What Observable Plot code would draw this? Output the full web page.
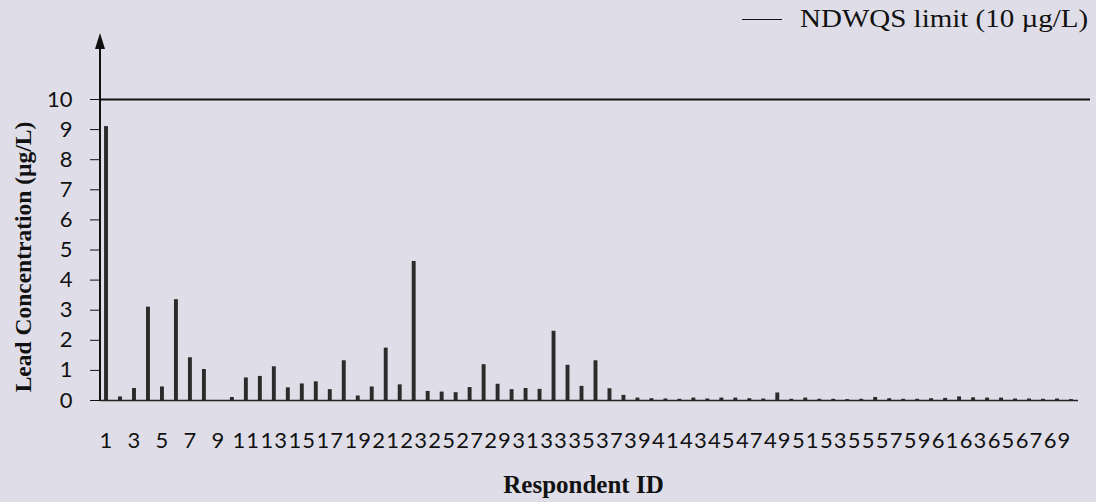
<!DOCTYPE html>
<html><head><meta charset="utf-8">
<script src="https://cdn.jsdelivr.net/npm/d3@7"></script>
<script src="https://cdn.jsdelivr.net/npm/@observablehq/plot@0.6"></script>
<style>
html,body{margin:0;padding:0;background:#dfdee8;}
#wrap{position:relative;width:1096px;height:502px;}
#legend{position:absolute;left:742px;top:5px;display:flex;align-items:center;font-family:"Liberation Serif",serif;font-size:25px;color:#111;}
#legend .sw{width:40px;height:0;border-top:1.6px solid #111;margin-right:18px;}
#legend .tx{display:inline-block;transform:scaleX(1.16);transform-origin:left center;white-space:nowrap;}
svg [aria-label="x-axis tick label"] text{letter-spacing:1.1px;}
svg [aria-label="x-axis label"]{translate:-12px 0;}
svg [aria-label="y-axis label"]{translate:0 7px;}
svg [aria-label="x-axis label"] text{font-family:"Liberation Serif",serif;font-weight:bold;font-size:25px;}
svg [aria-label="y-axis label"] text{font-family:"Liberation Serif",serif;font-weight:bold;font-size:23.5px;}
</style>
</head><body>
<div id="wrap"><div id="legend"><span class="sw"></span><span class="tx">NDWQS limit (10 µg/L)</span></div></div>
<script>
const ids = d3.range(1, 71);
const lead = [9.1,0.12,0.4,3.1,0.45,3.35,1.42,1.03,0,0.1,
0.75,0.8,1.12,0.42,0.55,0.62,0.36,1.32,0.15,0.45,
1.74,0.52,4.62,0.3,0.28,0.26,0.43,1.19,0.54,0.36,
0.4,0.37,2.3,1.17,0.47,1.32,0.39,0.17,0.08,0.06,
0.05,0.04,0.08,0.05,0.08,0.08,0.06,0.05,0.25,0.04,
0.08,0.04,0.04,0.03,0.04,0.1,0.06,0.04,0.04,0.06,
0.07,0.12,0.09,0.08,0.08,0.05,0.05,0.04,0.05,0.03];
const limit = [10];
const yTicks = d3.range(0, 11);
const xTicks = ids.filter(d => d % 2 === 1);
const data = ids.map((id, i) => ({id, lead: lead[i]}));

const arrowMark = (index, scales, values, dims) => {
  const x = dims.marginLeft;
  const y0 = scales.y(0);
  const top = scales.y(10) - 66;
  const g = d3.create("svg:g");
  g.append("line").attr("x1", x).attr("x2", x).attr("y1", y0).attr("y2", top + 12)
    .attr("stroke", "#111").attr("stroke-width", 2);
  g.append("path").attr("d", `M${x},${top}L${x - 5},${top + 16}L${x + 5},${top + 16}Z`).attr("fill", "#111");
  return g.node();
};

const chart = Plot.plot({
  width: 1096, height: 502,
  marginLeft: 100, marginRight: 6, marginTop: 99, marginBottom: 102,
  style: {background: "transparent", color: "#111", fontFamily: "Lato"},
  x: {type: "band", domain: ids, range: [100, 1077], paddingInner: 0.72, paddingOuter: 0.29},
  y: {domain: [0, 10]},
  marks: [
    Plot.barY(data, {x: "id", y: "lead", fill: "#2b2b2b"}),
    Plot.ruleY([0], {stroke: "#222", strokeWidth: 1.5, insetRight: 12}),
    Plot.ruleY(limit, {stroke: "#111", strokeWidth: 2}),
    arrowMark,
    Plot.axisY({ticks: yTicks, tickSize: 10, tickPadding: 18, fontSize: 22, tickFormat: d => d,
      label: "Lead Concentration (µg/L)", labelArrow: "none", labelAnchor: "center", labelOffset: 86}),
    Plot.axisX({ticks: xTicks, tickSize: 0, tickPadding: 32, fontSize: 22, tickFormat: d => d,
      label: "Respondent ID", labelArrow: "none", labelAnchor: "center", labelOffset: 92})
  ]
});
document.getElementById("wrap").appendChild(chart);
</script>
</body></html>
